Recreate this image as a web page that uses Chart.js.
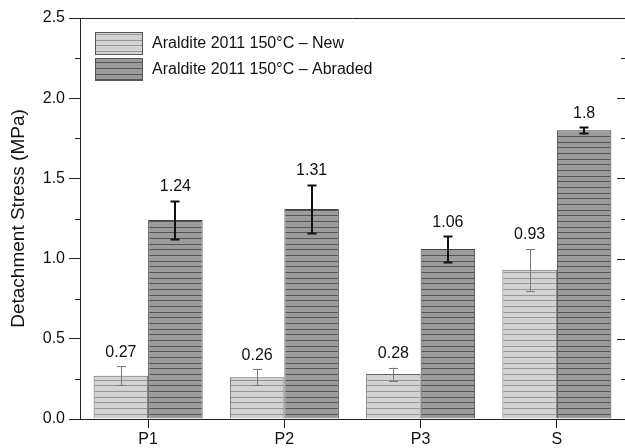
<!DOCTYPE html>
<html lang="en">
<head>
    <meta charset="utf-8">
    <title>Detachment stress</title>
    <script src="https://cdn.jsdelivr.net/npm/chart.js"></script>
    <style>
        html, body { margin: 0; padding: 0; background: #fff; overflow: hidden; }
        #wrap { width: 625px; height: 448px; position: relative; }
    </style>
</head>
<body>
<div id="wrap"><canvas id="myChart" width="625" height="448"></canvas></div>
<script>
    const categories = ['P1', 'P2', 'P3', 'S'];
    const seriesLabels = ['Araldite 2011 150°C – New', 'Araldite 2011 150°C – Abraded'];
    const newValues = [0.27, 0.26, 0.28, 0.93];
    const newErrors = [0.06, 0.05, 0.04, 0.13];
    const abradedValues = [1.24, 1.31, 1.06, 1.8];
    const abradedErrors = [0.12, 0.15, 0.08, 0.02];
    const valueLabels = [['0.27', '0.26', '0.28', '0.93'], ['1.24', '1.31', '1.06', '1.8']];

    const FONT = '"Liberation Sans", Arial, Helvetica, sans-serif';

    // horizontal stripe fill, like the printed hatch
    function stripes(fill, line) {
        const c = document.createElement('canvas');
        c.width = 8; c.height = 17;
        const g = c.getContext('2d');
        g.fillStyle = fill;
        g.fillRect(0, 0, 8, 17);
        g.fillStyle = line;
        for (const y of [0, 6, 11]) g.fillRect(0, y, 8, 1);
        return g.createPattern(c, 'repeat');
    }
    const lightFill = stripes('#d3d3d3', '#959595');
    const darkFill = stripes('#9b9b9b', '#555555');

    const errors = [newErrors, abradedErrors];
    const errStyle = [{color: '#7a7a7a', width: 1}, {color: '#111', width: 2}];

    const extras = {
        id: 'extras',
        afterDatasetsDraw(chart) {
            const ctx = chart.ctx;
            const y = chart.scales.y;
            const a = chart.chartArea;
            ctx.save();
            // error bars + value labels
            chart.data.datasets.forEach((ds, i) => {
                const meta = chart.getDatasetMeta(i);
                meta.data.forEach((bar, j) => {
                    const v = ds.data[j], e = errors[i][j];
                    const top = y.getPixelForValue(v + e);
                    const bot = y.getPixelForValue(v - e);
                    const x = Math.round(bar.x) + (errStyle[i].width === 1 ? 0.5 : 0);
                    ctx.strokeStyle = errStyle[i].color;
                    ctx.lineWidth = errStyle[i].width;
                    ctx.beginPath();
                    ctx.moveTo(x, top); ctx.lineTo(x, bot);
                    ctx.moveTo(x - 4.5, Math.round(top) + 0.5); ctx.lineTo(x + 4.5, Math.round(top) + 0.5);
                    ctx.moveTo(x - 4.5, Math.round(bot) + 0.5); ctx.lineTo(x + 4.5, Math.round(bot) + 0.5);
                    ctx.stroke();
                    ctx.fillStyle = '#111';
                    ctx.font = '16px ' + FONT;
                    ctx.textAlign = 'center';
                    ctx.textBaseline = 'alphabetic';
                    ctx.fillText(valueLabels[i][j], bar.x, top - 9.5);
                });
            });
            // top frame line and right-side ticks
            ctx.strokeStyle = '#222';
            ctx.lineWidth = 1;
            ctx.beginPath();
            ctx.moveTo(a.left, Math.round(a.top) + 0.5);
            ctx.lineTo(a.right, Math.round(a.top) + 0.5);
            for (let t = 0.25; t < 2.5; t += 0.25) {
                const py = Math.round(y.getPixelForValue(t)) + 0.5;
                const major = Math.abs(t * 2 - Math.round(t * 2)) < 1e-6;
                ctx.moveTo(a.right, py); ctx.lineTo(a.right - (major ? 8 : 4), py);
                if (!major) { ctx.moveTo(a.left, py); ctx.lineTo(a.left - 5, py); }
            }
            ctx.stroke();
            // legend
            const boxes = [lightFill, darkFill];
            const rows = [32, 58];
            boxes.forEach((f, i) => {
                ctx.fillStyle = f;
                ctx.fillRect(95, rows[i], 48, 23);
                ctx.strokeStyle = '#555';
                ctx.strokeRect(95.5, rows[i] + 0.5, 47, 22);
                ctx.fillStyle = '#111';
                ctx.font = '16px ' + FONT;
                ctx.textAlign = 'left';
                ctx.textBaseline = 'middle';
                ctx.fillText(seriesLabels[i], 152, rows[i] + 12);
            });
            ctx.restore();
        }
    };

    const ctx = document.getElementById('myChart');
    new Chart(ctx, {
        type: 'bar',
        data: {
            labels: categories,
            datasets: [{
                label: seriesLabels[0],
                data: newValues,
                backgroundColor: lightFill,
                borderColor: '#666',
                borderWidth: 1
            }, {
                label: seriesLabels[1],
                data: abradedValues,
                backgroundColor: darkFill,
                borderColor: '#444',
                borderWidth: 1
            }]
        },
        options: {
            responsive: false,
            animation: false,
            devicePixelRatio: 1,
            layout: { padding: { top: 18, right: 0, left: 0, bottom: 0 } },
            datasets: { bar: { categoryPercentage: 0.8, barPercentage: 1.0 } },
            plugins: { legend: { display: false }, tooltip: { enabled: false } },
            scales: {
                x: {
                    grid: { offset: false, drawOnChartArea: false, tickLength: 9, color: '#222' },
                    border: { color: '#222' },
                    ticks: { color: '#111', font: { family: FONT, size: 16 }, padding: 2 },
                    afterFit: s => { s.height = 29; }
                },
                y: {
                    min: 0, max: 2.5,
                    grid: { drawOnChartArea: false, tickLength: 11, color: '#222' },
                    border: { color: '#222' },
                    ticks: {
                        stepSize: 0.5, padding: 4, color: '#111',
                        font: { family: FONT, size: 16 },
                        callback: v => v.toFixed(1)
                    },
                    title: {
                        display: true, text: 'Detachment Stress (MPa)', color: '#111',
                        font: { family: FONT, size: 19 }, padding: { top: 7, bottom: 0 }
                    },
                    afterFit: s => { s.width = 80; }
                }
            }
        },
        plugins: [extras]
    });
</script>
</body>
</html>
